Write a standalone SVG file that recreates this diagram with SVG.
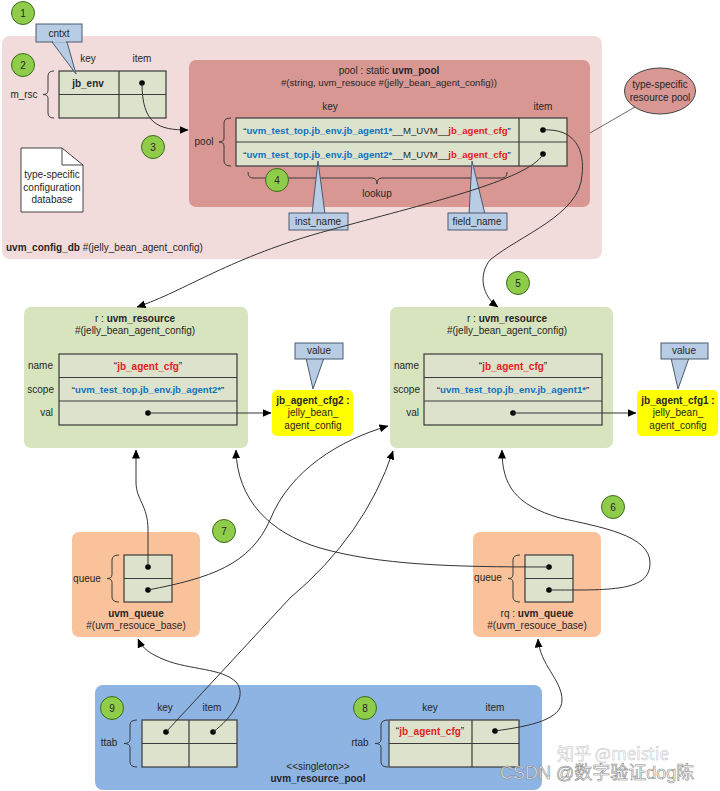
<svg xmlns="http://www.w3.org/2000/svg" width="720" height="791" viewBox="0 0 720 791">
<defs>
<style>
text{font-family:"Liberation Sans",Arial,sans-serif;font-size:10px;fill:#262626}
.c{text-anchor:middle}
.e{text-anchor:end}
.b{font-weight:bold}
.s{font-size:9.6px}
.blue{fill:#0f72c0;font-weight:bold}
.red{fill:#e3201f;font-weight:bold}
.cell{fill:#dde2cc;stroke:#3a3a3a;stroke-width:1.2}
.br{fill:none;stroke:#3a3a3a;stroke-width:1}
.bub{fill:#8fcc4a;stroke:#3d6b1f;stroke-width:1}
.call{fill:#b8cce4;stroke:#4a5a70;stroke-width:1}
.arr{fill:none;stroke:#333;stroke-width:1;marker-end:url(#ah)}
.dot{fill:#000}
</style>
<marker id="ah" viewBox="0 0 9 8" refX="8.5" refY="4" markerWidth="9" markerHeight="8" markerUnits="userSpaceOnUse" orient="auto">
<path d="M0,0 L9,4 L0,8 z" fill="#000"/>
</marker>
</defs>
<rect width="720" height="791" fill="#fff"/>

<g id="config_db">
<rect x="2" y="36" width="600" height="223" rx="8" fill="#f2dcdb"/>
<text x="6" y="251"><tspan class="b">uvm_config_db</tspan> #(jelly_bean_agent_config)</text>
</g>

<g id="doc">
<path d="M21,148 L62,148 L83,165 L83,212 L21,212 z" fill="#fff" stroke="#444" stroke-width="1"/>
<path d="M62,148 L62,165 L83,165" fill="none" stroke="#444" stroke-width="1"/>
<text class="c" x="52" y="178">type-specific</text>
<text class="c" x="52" y="191">configuration</text>
<text class="c" x="52" y="203">database</text>
</g>

<g id="m_rsc">
<text class="c" x="88" y="62">key</text>
<text class="c" x="142" y="62">item</text>
<rect class="cell" x="59" y="71" width="107" height="47"/>
<line x1="119" y1="71" x2="119" y2="118" stroke="#3a3a3a" stroke-width="1.2"/>
<line x1="59" y1="94.5" x2="166" y2="94.5" stroke="#3a3a3a" stroke-width="1.2"/>
<text class="c b" x="88" y="87">jb_env</text>
<circle class="dot" cx="142" cy="83" r="2.8"/>
<text class="c" x="24" y="98">m_rsc</text>
<path class="br" d="M54,71 Q48,71 48,76 L48,90.5 Q48,94.5 43,94.5 Q48,94.5 48,98.5 L48,113 Q48,118 54,118"/>
</g>

<g id="cntxt">
<rect class="call" x="36" y="24" width="46" height="18"/>
<path d="M52,42 L67,42 L76,74 z" fill="#b8cce4" stroke="#4a5a70" stroke-width="1"/>
<rect x="53" y="40" width="13" height="2.6" fill="#b8cce4"/>
<text class="c" x="59" y="37">cntxt</text>
</g>

<g id="pool">
<rect x="189" y="60" width="401" height="147" rx="7" fill="#d99794"/>
<text class="c" x="389" y="74">pool : static <tspan class="b">uvm_pool</tspan></text>
<text class="c s" x="389" y="86">#(string, uvm_resouce #(jelly_bean_agent_config))</text>
<text class="c" x="330" y="110">key</text>
<text class="c" x="543" y="110">item</text>
<rect class="cell" x="236" y="118" width="331" height="48"/>
<line x1="519" y1="118" x2="519" y2="166" stroke="#3a3a3a" stroke-width="1.2"/>
<line x1="236" y1="142" x2="567" y2="142" stroke="#3a3a3a" stroke-width="1.2"/>
<text class="c s" x="377" y="133.5">“<tspan class="blue">uvm_test_top.jb_env.jb_agent1*</tspan>__M_UVM__<tspan class="red">jb_agent_cfg</tspan>”</text>
<text class="c s" x="377" y="157.5">“<tspan class="blue">uvm_test_top.jb_env.jb_agent2*</tspan>__M_UVM__<tspan class="red">jb_agent_cfg</tspan>”</text>
<circle class="dot" cx="543" cy="130" r="2.8"/>
<circle class="dot" cx="543" cy="154" r="2.8"/>
<text class="c" x="204" y="145">pool</text>
<path class="br" d="M231,118 Q224,118 224,123 L224,138 Q224,142 219,142 Q224,142 224,146 L224,161 Q224,166 231,166"/>
<path class="br" d="M248,172 Q248,178 253,178 L372,178 Q377,178 377,184 Q377,178 382,178 L502,178 Q507,178 507,172"/>
<text class="c" x="377" y="197">lookup</text>
</g>

<g id="inst_name">
<path d="M312,214 L325,214 L318,161 z" fill="#b8cce4" stroke="#4a5a70" stroke-width="1"/>
<rect class="call" x="289" y="213" width="59" height="17"/>
<text class="c" x="318" y="225">inst_name</text>
</g>

<g id="field_name">
<path d="M469,214 L485,214 L472,161 z" fill="#b8cce4" stroke="#4a5a70" stroke-width="1"/>
<rect class="call" x="448" y="213" width="59" height="17"/>
<text class="c" x="477" y="225">field_name</text>
</g>

<g id="resource_pool_note">
<line x1="590" y1="133" x2="635" y2="107" stroke="#444" stroke-width="0.8"/>
<ellipse cx="660" cy="91" rx="35.5" ry="23" fill="#d99794" stroke="#444" stroke-width="1"/>
<text class="c" x="660" y="88">type-specific</text>
<text class="c" x="660" y="101">resource pool</text>
</g>

<g id="res_left">
<rect x="24" y="307" width="224" height="141" rx="7" fill="#d7e4bd"/>
<text class="c" x="135" y="322">r : <tspan class="b">uvm_resource</tspan></text>
<text class="c" x="135" y="334">#(jelly_bean_agent_config)</text>
<rect class="cell" x="59" y="354" width="178" height="71"/>
<line x1="59" y1="377.5" x2="237" y2="377.5" stroke="#3a3a3a" stroke-width="1.2"/>
<line x1="59" y1="401" x2="237" y2="401" stroke="#3a3a3a" stroke-width="1.2"/>
<text class="e" x="53" y="369">name</text>
<text class="e" x="54" y="393">scope</text>
<text class="e" x="53" y="416">val</text>
<text class="c" x="148" y="369.5">“<tspan class="red">jb_agent_cfg</tspan>”</text>
<text class="c s" x="148" y="393">“<tspan class="blue">uvm_test_top.jb_env.jb_agent2*</tspan>”</text>
<circle class="dot" cx="148" cy="413" r="2.8"/>
</g>

<g id="cfg2">
<rect x="272" y="390" width="81" height="46" rx="5" fill="#ffff00"/>
<text class="c b" x="313" y="404">jb_agent_cfg2 :</text>
<text class="c" x="313" y="416">jelly_bean_</text>
<text class="c" x="313" y="429">agent_config</text>
<path d="M306,358 L324,358 L313,389 z" fill="#b8cce4" stroke="#4a5a70" stroke-width="1"/>
<rect class="call" x="295" y="343" width="48" height="16"/>
<text class="c" x="319" y="354">value</text>
</g>

<g id="res_right">
<rect x="390" y="307" width="223" height="141" rx="7" fill="#d7e4bd"/>
<text class="c" x="507" y="322">r : <tspan class="b">uvm_resource</tspan></text>
<text class="c" x="507" y="334">#(jelly_bean_agent_config)</text>
<rect class="cell" x="424" y="354" width="178" height="71"/>
<line x1="424" y1="377.5" x2="602" y2="377.5" stroke="#3a3a3a" stroke-width="1.2"/>
<line x1="424" y1="401" x2="602" y2="401" stroke="#3a3a3a" stroke-width="1.2"/>
<text class="e" x="419" y="369">name</text>
<text class="e" x="420" y="393">scope</text>
<text class="e" x="419" y="416">val</text>
<text class="c" x="513" y="369.5">“<tspan class="red">jb_agent_cfg</tspan>”</text>
<text class="c s" x="513" y="393">“<tspan class="blue">uvm_test_top.jb_env.jb_agent1*</tspan>”</text>
<circle class="dot" cx="513" cy="413" r="2.8"/>
</g>

<g id="cfg1">
<rect x="637" y="390" width="81" height="46" rx="5" fill="#ffff00"/>
<text class="c b" x="678" y="404">jb_agent_cfg1 :</text>
<text class="c" x="678" y="416">jelly_bean_</text>
<text class="c" x="678" y="429">agent_config</text>
<path d="M671,358 L689,358 L678,389 z" fill="#b8cce4" stroke="#4a5a70" stroke-width="1"/>
<rect class="call" x="661" y="343" width="47" height="16"/>
<text class="c" x="684" y="354">value</text>
</g>

<g id="queue_left">
<rect x="72" y="532" width="128" height="105" rx="7" fill="#fac29a"/>
<rect class="cell" x="124" y="555" width="48" height="47"/>
<line x1="124" y1="578.5" x2="172" y2="578.5" stroke="#3a3a3a" stroke-width="1.2"/>
<circle class="dot" cx="148" cy="567" r="2.8"/>
<circle class="dot" cx="148" cy="590" r="2.8"/>
<text class="c" x="87" y="582">queue</text>
<path class="br" d="M119,555 Q112,555 112,560 L112,574.5 Q112,578.5 107,578.5 Q112,578.5 112,582.5 L112,597 Q112,602 119,602"/>
<text class="c b" x="136" y="617">uvm_queue</text>
<text class="c" x="136" y="629">#(uvm_resouce_base)</text>
</g>

<g id="queue_right">
<rect x="473" y="532" width="128" height="105" rx="7" fill="#fac29a"/>
<rect class="cell" x="525" y="555" width="48" height="47"/>
<line x1="525" y1="578.5" x2="573" y2="578.5" stroke="#3a3a3a" stroke-width="1.2"/>
<circle class="dot" cx="549" cy="567" r="2.8"/>
<circle class="dot" cx="549" cy="590" r="2.8"/>
<text class="c" x="488" y="581">queue</text>
<path class="br" d="M520,555 Q513,555 513,560 L513,574.5 Q513,578.5 508,578.5 Q513,578.5 513,582.5 L513,597 Q513,602 520,602"/>
<text class="c" x="537" y="617">rq : <tspan class="b">uvm_queue</tspan></text>
<text class="c" x="537" y="629">#(uvm_resouce_base)</text>
</g>

<g id="resource_pool">
<rect x="95" y="685" width="447" height="105" rx="8" fill="#8eb4e3"/>
<text class="c" x="165" y="711">key</text>
<text class="c" x="212" y="711">item</text>
<rect class="cell" x="142" y="720" width="95" height="47"/>
<line x1="189" y1="720" x2="189" y2="767" stroke="#3a3a3a" stroke-width="1.2"/>
<line x1="142" y1="743.5" x2="237" y2="743.5" stroke="#3a3a3a" stroke-width="1.2"/>
<circle class="dot" cx="166" cy="732" r="2.8"/>
<circle class="dot" cx="213" cy="732" r="2.8"/>
<text class="c" x="109" y="746">ttab</text>
<path class="br" d="M137,720 Q130,720 130,725 L130,739.5 Q130,743.5 124,743.5 Q130,743.5 130,747.5 L130,762 Q130,767 137,767"/>
<text class="c" x="430" y="711">key</text>
<text class="c" x="495" y="711">item</text>
<rect class="cell" x="389" y="720" width="130" height="47"/>
<line x1="472" y1="720" x2="472" y2="767" stroke="#3a3a3a" stroke-width="1.2"/>
<line x1="389" y1="743.5" x2="519" y2="743.5" stroke="#3a3a3a" stroke-width="1.2"/>
<text class="c" x="430" y="735">“<tspan class="red">jb_agent_cfg</tspan>”</text>
<circle class="dot" cx="495" cy="731" r="2.8"/>
<text class="c" x="360" y="746">rtab</text>
<path class="br" d="M388,720 Q381,720 381,725 L381,739.5 Q381,743.5 375,743.5 Q381,743.5 381,747.5 L381,762 Q381,767 388,767"/>
<text class="c" x="318" y="770">&lt;&lt;singleton&gt;&gt;</text>
<text class="c b" x="318" y="782">uvm_resource_pool</text>
</g>

<g id="bubbles">
<circle class="bub" cx="23" cy="13" r="11.5"/><text class="c" x="23" y="16.5">1</text>
<circle class="bub" cx="23" cy="65" r="11.5"/><text class="c" x="23" y="68.5">2</text>
<circle class="bub" cx="153" cy="147" r="11.5"/><text class="c" x="153" y="150.5">3</text>
<circle class="bub" cx="277" cy="180" r="11.5"/><text class="c" x="277" y="183.5">4</text>
<circle class="bub" cx="518" cy="283" r="11.5"/><text class="c" x="518" y="286.5">5</text>
<circle class="bub" cx="613" cy="507" r="11.5"/><text class="c" x="613" y="510.5">6</text>
<circle class="bub" cx="224" cy="531" r="11.5"/><text class="c" x="224" y="534.5">7</text>
<circle class="bub" cx="365" cy="708" r="11.5"/><text class="c" x="365" y="711.5">8</text>
<circle class="bub" cx="112" cy="708" r="11.5"/><text class="c" x="112" y="711.5">9</text>
</g>

<g id="connectors">
<path class="arr" d="M142,83 C142,124 158,130 188,130"/>
<path class="arr" d="M543,154 C530,180 420,205 330,230 C230,257 185,291 137,307"/>
<path class="arr" d="M543,130 C575,128 585,150 582,175 C580,215 520,235 490,260 C478,275 482,296 498,307"/>
<path class="arr" d="M148,413 L271,413"/>
<path class="arr" d="M513,413 L636,413"/>
<path class="arr" d="M148,567 L148,530 C148,505 136,500 136,482 L136,450"/>
<path class="arr" d="M148,590 C210,578 250,565 270,520 C290,470 340,440 388,426"/>
<path class="arr" d="M549,567 C450,567 380,565 320,548 C270,533 237,500 236,450"/>
<path class="arr" d="M549,590 C610,590 650,592 650,563 C650,535 600,527 560,518 C515,505 502,485 502,450"/>
<path class="arr" d="M213,732 C232,718 248,695 236,682 C222,668 190,670 165,660 C150,654 142,648 138,639"/>
<path class="arr" d="M166,732 L290,598 Q365,535 393,451"/>
<path class="arr" d="M495,731 C530,726 562,720 562,700 C562,680 540,665 538,639"/>
</g>

<g id="watermark">
<text x="557" y="760" style="font-family:'Noto Sans CJK SC','Liberation Sans',sans-serif;font-size:17px;fill:#ffffff;fill-opacity:0.4;stroke:#c4c4c4;stroke-width:0.5">知乎 @meistie</text>
<text x="500" y="779" style="font-family:'Liberation Sans','Noto Sans CJK SC',sans-serif;font-size:18px;fill:#ffffff;fill-opacity:0.7;stroke:#8a8a8a;stroke-width:0.6">CSDN @数字验证dog陈</text>
</g>
</svg>
